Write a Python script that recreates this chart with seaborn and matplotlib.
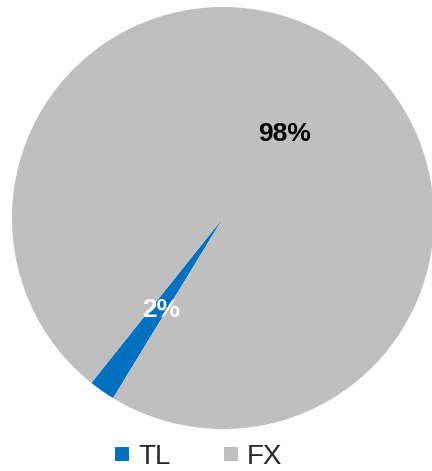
import matplotlib
matplotlib.use("Agg")
import matplotlib.pyplot as plt
from matplotlib.lines import Line2D
import numpy as np
import seaborn as sns

# Share of each component
categories = ["TL", "FX"]
shares = [2, 98]
pct_labels = ["2%", "98%"]

sns.set_theme(style="white")
plt.rcParams["font.family"] = ["Liberation Sans", "DejaVu Sans"]

colors = ["#0070C0", "#BFBFBF"]
label_colors = ["white", "black"]

fig = plt.figure(figsize=(4.32, 4.71), dpi=100)
ax = fig.add_axes([12 / 432, 42 / 471, 422 / 432, 422 / 471])

wedges, _ = ax.pie(
    shares,
    colors=colors,
    startangle=238.6,
    counterclock=False,
    radius=1.0,
    wedgeprops=dict(linewidth=0),
)
# Percentage labels placed halfway along each wedge's bisector
for w, txt, col in zip(wedges, pct_labels, label_colors):
    ang = np.deg2rad((w.theta1 + w.theta2) / 2)
    ax.text(0.51 * np.cos(ang), 0.51 * np.sin(ang) - 0.02, txt, ha="center", va="center",
            fontsize=19, fontweight="bold", color=col)

ax.set_xlim(-1, 1)
ax.set_ylim(-1, 1)
ax.set_aspect("equal")
ax.axis("off")

handles = [Line2D([0], [0], marker="s", linestyle="none", markersize=10,
                  markerfacecolor=c, markeredgewidth=0) for c in colors]
fig.legend(handles, categories, loc="center", bbox_to_anchor=(0.46, 14 / 471),
           ncol=2, frameon=False, fontsize=20, handlelength=0.5, handletextpad=0.35,
           columnspacing=1.9, borderpad=0, borderaxespad=0)

fig.savefig("out.png", dpi=100)
